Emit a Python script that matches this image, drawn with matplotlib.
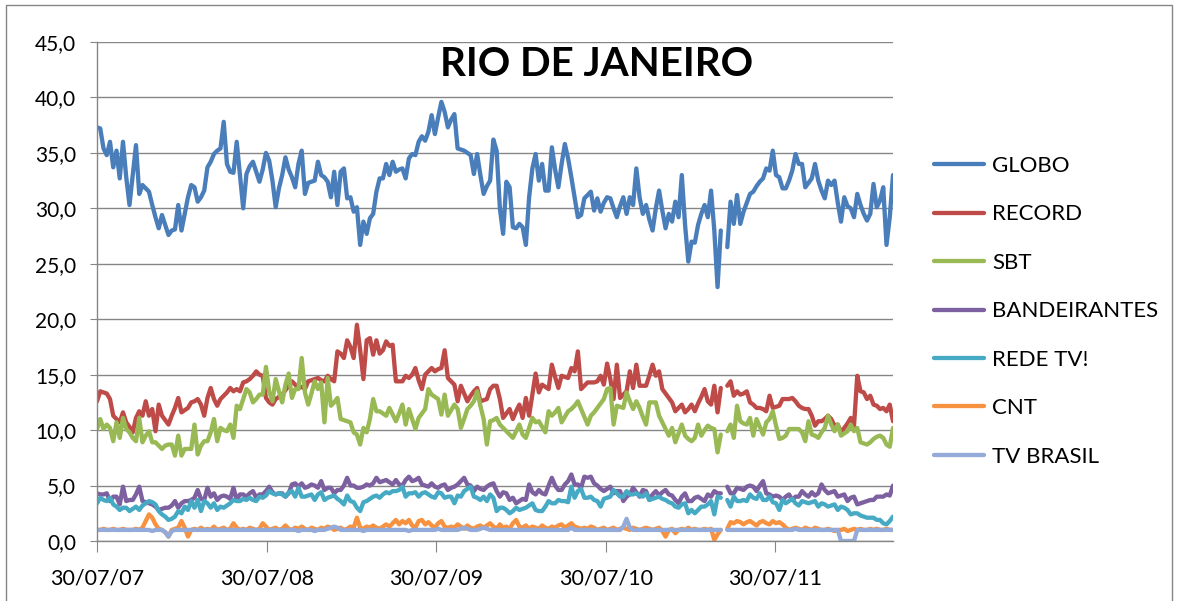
import numpy as np
import pandas as pd
import matplotlib
matplotlib.use("Agg")
import matplotlib.pyplot as plt
import matplotlib.dates as mdates
from matplotlib.patches import Rectangle

plt.rcParams['font.family'] = ['Lato', 'DejaVu Sans']

nan = np.nan
start_date = "2007-07-30"
n_weeks = 246
tick_labels = ["30/07/07", "30/07/08", "30/07/09", "30/07/10", "30/07/11"]
series_names = ["GLOBO", "RECORD", "SBT", "BANDEIRANTES", "REDE TV!", "CNT", "TV BRASIL"]

globo = [
    37.3, 37.2, 35.4, 34.8, 36.0, 33.7, 35.2, 32.7, 36.0, 32.8,
    30.3, 33.0, 35.7, 31.3, 32.1, 31.8, 31.5, 30.3, 29.2, 28.2,
    29.4, 28.5, 27.6, 28.0, 28.1, 30.3, 28.0, 29.5, 31.0, 32.1,
    31.9, 30.6, 31.0, 31.6, 33.7, 34.2, 34.9, 35.2, 35.4, 37.8,
    34.0, 33.3, 33.2, 36.0, 33.0, 30.0, 33.1, 33.8, 34.2, 33.3,
    32.4, 33.5, 35.0, 34.3, 32.5, 30.1, 31.8, 33.0, 34.6, 33.5,
    32.8, 31.9, 34.0, 35.2, 31.3, 32.3, 32.4, 32.5, 34.2, 33.0,
    32.8, 32.4, 31.0, 33.3, 30.3, 33.3, 33.6, 30.9, 31.0, 29.7,
    30.1, 26.7, 28.8, 27.7, 29.1, 29.5, 31.5, 32.7, 32.7, 34.0,
    33.0, 34.2, 33.3, 33.5, 33.6, 32.7, 34.5, 34.9, 34.8, 36.0,
    36.5, 36.1, 36.9, 38.4, 36.7, 38.2, 39.6, 38.7, 37.3, 38.0,
    38.5, 35.4, 35.3, 35.2, 35.0, 34.8, 33.1, 34.9, 33.0, 31.3,
    32.0, 32.5, 36.2, 35.2, 30.0, 27.7, 32.4, 31.9, 28.3, 28.2,
    28.6, 28.3, 26.7, 31.0, 33.6, 34.9, 32.5, 34.0, 31.6, 31.6,
    35.5, 33.5, 31.9, 34.0, 35.8, 34.5, 32.8, 31.0, 29.2, 29.4,
    30.9, 31.2, 31.5, 29.8, 30.9, 29.7, 30.5, 31.0, 30.9, 30.0,
    29.2, 30.2, 31.0, 29.5, 31.0, 30.3, 33.6, 31.0, 29.5, 30.3,
    29.0, 28.0, 30.0, 31.6, 29.8, 28.2, 29.5, 28.8, 30.6, 29.2,
    33.0, 28.5, 25.2, 27.0, 26.9, 28.5, 29.5, 30.3, 29.2, 31.6,
    28.0, 22.9, 28.0, nan, 26.5, 30.6, 28.6, 31.2, 28.6, 29.7,
    30.5, 31.3, 31.5, 32.0, 32.4, 32.7, 33.6, 33.4, 35.2, 33.0,
    32.8, 31.8, 31.8, 32.5, 33.4, 34.9, 34.0, 34.0, 31.9, 32.3,
    32.7, 34.0, 32.5, 31.6, 30.9, 32.5, 32.1, 32.5, 30.5, 28.8,
    31.0, 30.2, 30.0, 29.2, 31.3, 30.3, 29.5, 28.9, 29.5, 32.2,
    30.1, 30.7, 31.9, 26.7, 29.2, 33.0]

record = [
    12.6, 13.5, 13.4, 13.3, 12.8, 11.3, 11.0, 10.7, 11.6, 10.7,
    10.3, 9.8, 11.1, 11.7, 11.3, 12.6, 11.3, 11.9, 9.9, 12.3,
    11.3, 10.9, 10.5, 11.3, 12.0, 12.9, 11.6, 11.8, 12.0, 12.5,
    12.6, 12.8, 12.3, 11.3, 12.9, 13.8, 12.8, 12.2, 12.8, 13.1,
    13.4, 13.8, 13.5, 13.7, 13.5, 14.3, 14.4, 14.6, 14.9, 15.3,
    15.0, 14.9, 12.9, 12.5, 12.3, 12.8, 13.0, 13.2, 13.6, 14.0,
    14.4, 14.1, 13.8, 13.9, 13.7, 14.4, 14.5, 14.6, 14.7, 14.5,
    14.4, 14.9, 14.6, 14.4, 17.1, 16.9, 16.5, 18.1, 17.5, 16.5,
    19.5, 17.2, 14.6, 18.1, 18.3, 16.8, 18.1, 16.9, 17.2, 18.0,
    17.6, 17.7, 14.4, 14.4, 14.4, 14.9, 14.7, 15.0, 15.6, 14.5,
    13.7, 15.0, 15.3, 15.6, 15.3, 15.5, 15.6, 17.2, 14.7, 14.4,
    14.1, 12.6, 14.0, 13.3, 12.6, 13.1, 13.5, 13.8, 12.6, 12.7,
    12.8, 13.7, 14.0, 14.0, 12.8, 11.1, 11.5, 11.9, 11.0, 11.7,
    12.3, 11.1, 12.9, 11.3, 13.2, 15.1, 13.4, 14.1, 13.9, 13.7,
    15.9, 14.8, 13.8, 14.9, 14.8, 14.7, 15.6, 15.3, 17.1, 13.7,
    14.0, 14.3, 14.3, 14.3, 14.4, 14.9, 14.1, 16.0, 14.6, 12.8,
    15.9, 12.9, 13.2, 13.5, 15.3, 13.8, 15.9, 14.0, 14.0, 14.0,
    14.9, 15.9, 14.9, 15.3, 13.7, 13.3, 12.9, 12.5, 11.7, 12.0,
    12.3, 11.6, 11.9, 12.3, 11.7, 12.4, 13.0, 13.7, 12.6, 12.3,
    14.0, 11.6, 13.8, nan, 14.0, 14.4, 13.1, 13.5, 13.2, 13.3,
    13.5, 12.5, 12.3, 12.0, 12.0, 11.9, 11.7, 13.1, 12.0, 12.1,
    12.2, 12.8, 12.8, 12.8, 12.9, 12.6, 12.2, 12.0, 11.9, 11.9,
    11.3, 10.4, 10.8, 10.8, 11.0, 11.3, 11.0, 10.4, 10.5, 9.8,
    10.2, 10.6, 11.1, 10.4, 14.9, 13.5, 13.4, 12.8, 13.1, 12.3,
    12.2, 11.9, 12.0, 11.7, 12.3, 10.8]

sbt = [
    10.1, 11.0, 10.1, 10.5, 10.2, 9.0, 10.7, 9.3, 11.1, 10.1,
    9.8, 9.3, 9.0, 11.1, 8.9, 9.5, 9.9, 8.9, 8.9, 8.6,
    8.3, 8.6, 8.7, 8.7, 7.7, 9.5, 7.7, 8.3, 8.3, 8.3,
    10.5, 7.8, 8.6, 9.0, 9.0, 9.8, 11.0, 9.0, 10.2, 10.0,
    9.9, 10.5, 9.3, 12.2, 11.9, 12.8, 13.7, 13.4, 12.5, 12.8,
    13.2, 13.2, 15.7, 13.5, 12.6, 14.6, 13.5, 12.5, 14.1, 15.1,
    12.9, 13.7, 13.7, 16.5, 13.4, 12.3, 13.3, 14.4, 13.7, 14.3,
    10.7, 14.7, 12.2, 12.5, 12.9, 11.0, 10.9, 10.8, 10.7, 9.8,
    9.6, 8.7, 10.2, 9.8, 11.0, 12.8, 11.7, 11.7, 11.5, 11.3,
    12.0, 11.4, 10.8, 11.5, 12.3, 10.5, 11.9, 11.0, 10.1, 11.1,
    11.5, 11.9, 13.7, 13.2, 13.0, 12.8, 11.4, 13.2, 11.3, 11.8,
    12.3, 11.9, 10.2, 11.0, 11.9, 12.2, 12.6, 13.5, 12.2, 11.0,
    8.7, 10.8, 10.9, 11.1, 10.5, 10.2, 9.9, 9.6, 9.3, 9.9,
    10.5, 9.6, 9.3, 10.2, 11.1, 10.7, 10.8, 10.3, 9.8, 11.7,
    11.3, 11.6, 12.0, 10.7, 11.2, 11.7, 11.9, 12.2, 12.6, 11.9,
    11.2, 10.5, 11.3, 11.6, 12.0, 12.4, 12.8, 13.7, 13.8, 10.5,
    12.2, 12.1, 12.0, 13.4, 12.6, 11.9, 12.6, 12.0, 11.2, 10.5,
    12.5, 12.5, 12.5, 11.3, 10.7, 10.1, 9.5, 10.2, 8.9, 9.7,
    10.5, 9.5, 9.2, 9.0, 9.3, 10.5, 9.5, 10.0, 10.4, 10.2,
    10.1, 8.0, 9.6, nan, 9.9, 10.5, 9.3, 12.2, 10.8, 10.6,
    10.5, 11.1, 9.5, 11.0, 10.3, 9.6, 10.7, 11.0, 11.7, 10.4,
    9.2, 9.3, 9.5, 10.1, 10.1, 10.1, 10.1, 9.8, 9.0, 10.8,
    9.6, 9.5, 9.3, 9.8, 10.2, 11.3, 10.5, 9.9, 10.5, 9.5,
    9.7, 9.9, 10.5, 9.9, 10.2, 8.9, 8.8, 8.7, 8.9, 9.2,
    9.4, 9.5, 9.3, 8.7, 8.5, 10.2]

bandeirantes = [
    4.3, 4.2, 4.2, 4.3, 3.6, 4.0, 4.0, 3.3, 4.9, 3.6,
    3.7, 3.7, 4.2, 4.9, 3.6, 3.5, 3.4, 3.3, 3.1, 2.8,
    2.9, 3.0, 3.0, 3.2, 3.6, 3.0, 3.4, 3.6, 3.6, 3.7,
    3.9, 4.6, 3.8, 3.7, 4.8, 4.0, 4.3, 3.7, 4.0, 4.1,
    4.0, 3.8, 4.8, 3.7, 4.2, 4.2, 4.0, 4.3, 4.5, 3.9,
    4.2, 4.2, 4.5, 4.9, 4.4, 4.2, 4.3, 4.3, 4.0, 4.3,
    5.1, 5.2, 4.9, 5.2, 4.8, 4.9, 5.1, 5.0, 4.8, 5.4,
    4.6, 4.8, 4.8, 4.3, 4.6, 4.6, 5.0, 5.7, 5.0, 5.0,
    4.8, 4.8, 4.9, 5.1, 5.0, 5.2, 5.7, 5.3, 5.4, 5.5,
    5.3, 5.1, 5.5, 5.1, 5.0, 5.5, 5.8, 5.4, 5.5, 5.7,
    5.1, 5.0, 4.9, 5.2, 4.9, 4.8, 5.0, 5.1, 4.6, 4.8,
    4.9, 5.1, 5.4, 5.7, 5.1, 5.0, 4.5, 4.9, 4.7, 4.6,
    4.9, 5.1, 5.2, 4.5, 4.0, 4.4, 4.3, 3.7, 3.9, 3.4,
    3.6, 3.8, 3.7, 5.1, 4.4, 4.2, 4.6, 4.3, 4.2, 5.0,
    5.7, 5.0, 4.6, 4.6, 5.1, 5.4, 6.0, 5.1, 5.1, 4.8,
    5.8, 5.7, 5.8, 5.2, 5.0, 4.7, 4.5, 4.7, 4.9, 4.3,
    4.5, 4.5, 3.6, 4.0, 4.2, 4.8, 4.4, 4.0, 4.6, 4.5,
    3.7, 4.2, 4.5, 4.1, 4.4, 4.6, 4.2, 4.1, 3.7, 3.4,
    4.0, 4.3, 3.6, 3.6, 3.9, 4.0, 3.8, 3.6, 4.2, 4.0,
    4.5, 4.3, 4.3, nan, 4.9, 4.3, 4.3, 4.8, 4.7, 4.6,
    4.9, 5.0, 4.9, 4.5, 5.0, 5.4, 4.3, 4.2, 4.0, 4.1,
    4.0, 3.7, 4.0, 4.2, 3.7, 4.0, 4.0, 4.5, 4.2, 4.0,
    4.4, 4.1, 4.3, 5.1, 4.6, 4.3, 4.4, 4.5, 4.0, 4.1,
    4.2, 3.6, 3.9, 4.0, 3.3, 3.4, 3.5, 3.6, 3.7, 3.7,
    4.0, 4.0, 4.0, 4.2, 4.1, 5.0]

rede_tv = [
    3.4, 3.9, 3.7, 3.6, 3.9, 3.3, 3.1, 2.8, 3.0, 3.0,
    2.7, 2.9, 3.1, 2.8, 3.2, 3.4, 3.6, 3.5, 3.3, 2.7,
    2.4, 2.2, 1.9, 2.0, 2.2, 2.7, 2.5, 3.1, 2.8, 3.6,
    3.0, 3.7, 2.7, 3.6, 3.4, 3.0, 3.4, 2.8, 3.1, 3.0,
    3.2, 3.4, 3.7, 3.6, 3.6, 3.8, 3.7, 3.9, 3.7, 3.6,
    4.0, 3.9, 4.1, 4.5, 4.3, 4.2, 4.3, 4.2, 4.0, 4.4,
    4.5, 4.0, 4.8, 4.0, 4.0, 4.1, 4.2, 3.7, 4.2, 4.4,
    3.7, 3.9, 4.0, 4.1, 3.8, 3.6, 3.3, 4.1, 3.6, 3.5,
    3.0, 2.7, 3.5, 3.6, 3.8, 4.0, 4.1, 3.9, 4.2, 4.4,
    4.3, 4.5, 4.5, 4.6, 4.9, 4.0, 4.3, 4.3, 4.4, 4.0,
    4.3, 4.4, 4.2, 4.0, 3.9, 4.4, 4.3, 3.9, 4.0, 4.0,
    3.4, 4.1, 4.0, 4.5, 4.7, 4.9, 4.0, 3.9, 3.7, 4.0,
    3.6, 4.2, 3.9, 2.7, 3.0, 3.0, 2.8, 2.5, 2.7, 3.0,
    2.8, 2.9, 3.0, 3.2, 3.4, 2.8, 2.7, 2.7, 3.1, 3.6,
    3.4, 3.4, 3.7, 3.6, 3.6, 3.5, 4.9, 3.9, 4.5, 4.7,
    3.9, 3.9, 4.0, 3.7, 3.6, 3.1, 3.8, 3.9, 4.0, 4.6,
    4.3, 4.0, 4.0, 4.5, 4.2, 4.2, 4.3, 4.1, 4.0, 4.3,
    3.7, 3.8, 3.9, 4.0, 3.8, 3.7, 3.5, 3.4, 3.1, 3.0,
    3.3, 3.4, 2.5, 2.8, 2.5, 2.8, 3.1, 3.1, 3.3, 3.6,
    2.4, 4.0, 3.9, nan, 3.7, 3.1, 4.0, 3.6, 3.6, 3.7,
    3.6, 4.2, 3.9, 3.8, 4.3, 3.7, 3.7, 4.0, 3.5, 3.4,
    2.8, 3.7, 3.4, 3.6, 3.8, 3.4, 3.2, 3.6, 3.5, 3.4,
    3.5, 3.6, 3.1, 3.4, 3.3, 3.1, 3.2, 3.3, 2.8, 3.1,
    3.0, 2.8, 2.4, 2.5, 2.5, 2.3, 2.2, 2.1, 2.1, 2.1,
    1.9, 1.9, 1.6, 1.5, 1.8, 2.2]

cnt = [
    1.0, 1.0, 1.1, 1.0, 1.0, 1.1, 1.0, 1.0, 1.1, 1.0,
    1.0, 1.0, 1.1, 1.0, 1.2, 1.8, 2.4, 2.1, 1.5, 1.1,
    1.0, 0.8, 0.4, 1.0, 1.1, 1.2, 1.8, 1.2, 0.4, 1.0,
    1.1, 1.0, 1.2, 1.0, 1.1, 1.0, 1.3, 1.0, 1.1, 1.2,
    1.0, 1.1, 1.6, 1.2, 1.0, 1.1, 1.0, 1.2, 1.1, 1.0,
    1.1, 1.6, 1.3, 1.0, 1.1, 1.2, 1.0, 1.1, 1.4, 1.1,
    1.0, 1.2, 1.1, 1.3, 1.1, 1.0, 1.2, 1.1, 1.0, 1.2,
    1.1, 1.3, 1.2, 1.0, 1.1, 1.2, 1.0, 1.1, 1.3, 1.2,
    2.1, 1.2, 1.1, 1.3, 1.2, 1.4, 1.2, 1.1, 1.3, 1.5,
    1.3, 1.6, 1.9, 1.5, 1.8, 1.6, 1.9, 1.4, 1.2, 1.8,
    1.9, 1.5, 1.7, 1.4, 1.2, 1.6, 1.8, 1.3, 1.2, 1.3,
    1.2, 1.5, 1.3, 1.1, 1.4, 1.2, 1.1, 1.3, 1.4, 1.2,
    1.4, 1.6, 1.3, 1.1, 1.5, 1.2, 1.3, 1.1, 1.6, 1.9,
    1.3, 1.2, 1.4, 1.1, 1.3, 1.2, 1.1, 1.4, 1.2, 1.1,
    1.3, 1.2, 1.4, 1.5, 1.2, 1.4, 1.6, 1.3, 1.2, 1.1,
    1.2, 1.1, 1.3, 1.2, 1.0, 1.1, 1.2, 1.0, 1.1, 1.2,
    1.0, 1.1, 1.2, 1.1, 1.0, 1.2, 1.1, 1.0, 1.1, 1.2,
    1.1, 1.0, 1.1, 1.2, 0.9, 0.4, 1.0, 1.1, 0.7, 1.0,
    1.1, 1.0, 1.2, 1.0, 1.1, 1.0, 1.0, 1.1, 1.0, 1.1,
    0.1, 0.6, 1.0, nan, 1.1, 1.7, 1.6, 1.8, 1.7, 1.5,
    1.7, 1.8, 1.6, 1.4, 1.7, 1.8, 1.6, 1.5, 1.8, 1.6,
    1.7, 1.5, 1.2, 1.0, 1.1, 1.2, 1.1, 1.0, 1.2, 1.1,
    1.0, 1.2, 1.1, 1.0, 1.0, 1.1, 1.0, 0.9, 1.0, 1.0,
    1.1, 0.9, 1.0, 1.1, 1.0, 1.1, 1.0, 1.0, 1.1, 1.0,
    1.1, 1.0, 1.0, 1.1, 1.0, 1.0]

tv_brasil = [
    1.0, 1.0, 1.0, 1.0, 1.0, 1.0, 1.0, 1.0, 1.0, 1.0,
    1.0, 1.0, 1.0, 1.0, 1.0, 1.0, 1.0, 0.9, 1.0, 1.0,
    1.0, 0.8, 0.4, 0.9, 1.0, 1.0, 1.0, 1.0, 1.0, 1.0,
    1.0, 1.0, 1.0, 1.0, 1.0, 1.0, 1.0, 1.0, 1.0, 1.0,
    1.0, 1.0, 1.0, 1.0, 1.0, 1.0, 1.0, 1.0, 1.0, 1.0,
    1.0, 1.0, 1.0, 1.0, 1.0, 1.0, 1.0, 1.0, 1.0, 1.0,
    1.0, 1.0, 0.9, 1.0, 1.0, 1.0, 1.0, 0.9, 1.0, 1.0,
    1.0, 1.1, 1.2, 1.3, 1.2, 1.0, 1.0, 1.0, 1.0, 1.0,
    1.0, 1.0, 0.9, 1.0, 1.0, 1.0, 1.0, 1.0, 1.0, 1.0,
    1.0, 1.0, 1.0, 1.0, 1.0, 1.0, 0.9, 1.0, 1.0, 1.0,
    1.0, 1.0, 1.0, 1.0, 1.0, 1.1, 1.0, 1.0, 1.0, 1.0,
    1.0, 1.0, 1.1, 1.2, 1.1, 1.0, 1.0, 1.0, 1.1, 1.2,
    1.1, 1.0, 1.0, 1.0, 1.0, 1.0, 1.0, 1.0, 1.0, 1.0,
    1.0, 1.0, 1.0, 1.0, 1.0, 1.0, 1.0, 1.0, 1.0, 1.0,
    1.0, 1.0, 1.0, 1.0, 1.0, 1.0, 1.2, 1.0, 1.0, 1.0,
    1.0, 1.0, 1.0, 1.0, 1.0, 1.0, 1.0, 1.0, 1.0, 1.0,
    1.0, 1.0, 1.3, 2.0, 1.2, 1.0, 1.0, 1.0, 1.0, 1.0,
    1.0, 1.0, 1.0, 1.0, 1.0, 1.0, 1.0, 1.0, 1.0, 1.0,
    1.0, 1.0, 1.0, 1.0, 1.0, 1.0, 1.0, 1.0, 1.0, 1.0,
    1.0, 1.0, 1.0, nan, 1.0, 1.0, 1.0, 1.0, 1.0, 1.0,
    1.0, 1.0, 1.0, 1.0, 1.0, 1.0, 1.0, 1.0, 1.0, 1.0,
    1.0, 1.0, 1.0, 1.0, 1.0, 1.1, 1.0, 1.0, 1.0, 1.0,
    1.0, 1.0, 1.0, 1.0, 1.0, 1.0, 1.0, 1.0, 1.0, 0.0,
    0.0, 0.0, 0.0, 0.0, 1.0, 1.0, 1.0, 1.0, 1.0, 1.0,
    1.0, 1.0, 1.0, 1.0, 1.0, 1.0]

colors = ["#4A7EBB", "#BE4B48", "#98B954", "#7D60A0", "#46AAC5", "#F69240", "#94AAD8"]

dates = pd.date_range(start_date, periods=n_weeks, freq="7D")
all_series = [globo, record, sbt, bandeirantes, rede_tv, cnt, tv_brasil]

W, H = 1178, 601
fig = plt.figure(figsize=(W / 100, H / 100), dpi=100)
ax = fig.add_axes([97 / W, 1 - 541 / H, (893 - 97) / W, (541 - 42) / H])

for name, vals, c in zip(series_names, all_series, colors):
    ax.plot(dates, vals, color=c, lw=3.1, label=name, solid_joinstyle="round",
            solid_capstyle="round")

ax.set_ylim(0, 45)
ax.set_yticks(np.arange(0, 46, 5))
ax.set_yticklabels([f"{v:.1f}".replace(".", ",") for v in np.arange(0, 46, 5)])
ax.set_xlim(dates[0], dates[-1])
tick_dates = pd.to_datetime(tick_labels, format="%d/%m/%y")
ax.set_xticks(tick_dates)
ax.set_xticklabels(tick_labels)

ax.grid(axis="y", color="#868686", lw=1.0)
ax.set_axisbelow(True)
for s in ["top", "right"]:
    ax.spines[s].set_visible(False)
for s in ["left", "bottom"]:
    ax.spines[s].set_color("#868686")
    ax.spines[s].set_linewidth(1.0)
ax.tick_params(axis="y", length=5, color="#868686", labelsize=15, pad=10)
ax.tick_params(axis="x", length=8, color="#868686", labelsize=15.5, pad=12)

fig.text(597 / W, 1 - 64 / H, "RIO DE JANEIRO", ha="center", va="center",
         fontsize=29, fontweight="bold")

fig.legend(loc="upper left", bbox_to_anchor=(934 / W, 1 - 156 / H), frameon=False,
           fontsize=16, labelspacing=1.28, handlelength=2.25, handletextpad=0.38,
           borderaxespad=0, borderpad=0)

fig.patches.append(Rectangle((6 / W, -0.05), (1172 - 6) / W, 1.05 - 5 / H,
                             transform=fig.transFigure, fill=False,
                             edgecolor="#868686", lw=1.0))

fig.savefig("out.png", dpi=100)
